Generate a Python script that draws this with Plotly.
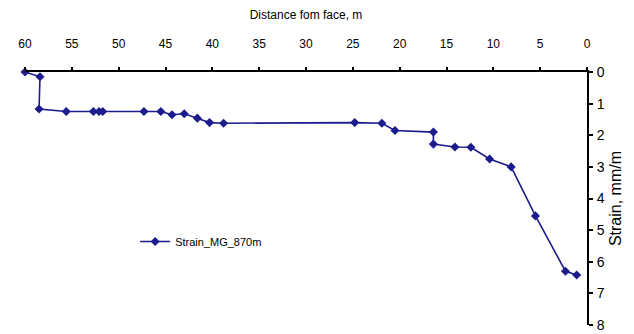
import plotly.graph_objects as go

distance = [60.0, 58.4, 58.5, 55.6, 52.7, 52.1, 51.7, 47.3, 45.5, 44.3, 43.0, 41.6, 40.3, 38.8,
            24.8, 21.9, 20.5, 16.4, 16.4, 14.1, 12.4, 10.4, 8.1, 5.5, 2.3, 1.1]
strain = [0.0, 0.15, 1.17, 1.25, 1.25, 1.25, 1.25, 1.25, 1.25, 1.35, 1.32, 1.46, 1.6, 1.62,
          1.6, 1.62, 1.85, 1.9, 2.28, 2.37, 2.38, 2.75, 3.0, 4.55, 6.3, 6.42]
x_ticks = [60, 55, 50, 45, 40, 35, 30, 25, 20, 15, 10, 5, 0]
y_ticks = [0, 1, 2, 3, 4, 5, 6, 7, 8]

navy = "#1c1c8c"
fig = go.Figure()
fig.add_trace(go.Scatter(
    x=distance, y=strain, mode="lines+markers", name="Strain_MG_870m",
    line=dict(color=navy, width=1.6),
    marker=dict(symbol="diamond", size=7, color=navy),
    cliponaxis=False,
))
fig.update_layout(
    width=626, height=326,
    margin=dict(l=17, r=47, t=64, b=9),
    paper_bgcolor="white", plot_bgcolor="white",
    font=dict(family="Liberation Sans, Arial, sans-serif", color="black"),
    showlegend=True,
    legend=dict(x=0.196, y=0.33, xanchor="left", yanchor="middle",
                bgcolor="rgba(0,0,0,0)", font=dict(size=11)),
    xaxis=dict(
        side="top", range=[60, 0], tickvals=x_ticks, ticktext=[str(v) for v in x_ticks],
        automargin=False,
        showgrid=False, zeroline=False, showline=True, linecolor="black", linewidth=2,
        ticks="outside", ticklen=3, tickwidth=1.5, tickcolor="black",
        tickfont=dict(size=12), ticklabelstandoff=14,
        title=dict(text="Distance fom face, m", font=dict(size=12), standoff=16),
    ),
    yaxis=dict(
        side="right", range=[8, 0], tickvals=y_ticks,
        automargin=False,
        showgrid=False, zeroline=False, showline=True, linecolor="black", linewidth=2,
        ticks="outside", ticklen=4, tickwidth=1.5, tickcolor="black",
        tickfont=dict(size=14), ticklabelstandoff=1,
        title=dict(text="Strain, mm/m", font=dict(size=16), standoff=6),
    ),
)
fig.write_html("out.html")
